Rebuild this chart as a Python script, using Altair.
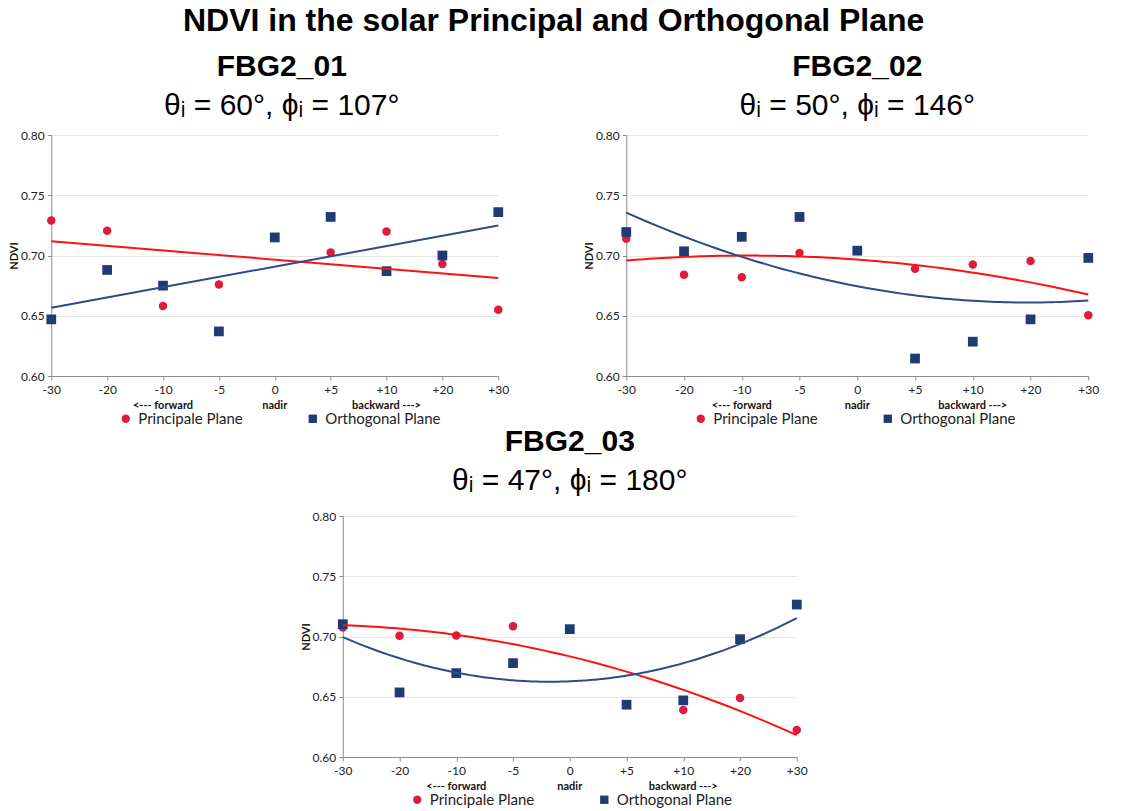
import altair as alt
import pandas as pd

# View angles along the x axis (categories, equally spaced)
angle_labels = ["-30", "-20", "-10", "-5", "0", "+5", "+10", "+20", "+30"]
planes = ["Principale Plane", "Orthogonal Plane"]

# NDVI per view angle, FBG2_01
fbg01_principal = [0.729, 0.7205, 0.658, 0.676, 0.715, 0.7025, 0.720, 0.693, 0.655]
fbg01_orthogonal = [0.647, 0.688, 0.675, 0.637, 0.715, 0.732, 0.687, 0.700, 0.736]

# NDVI per view angle, FBG2_02
fbg02_principal = [0.714, 0.684, 0.682, 0.702, 0.704, 0.689, 0.6925, 0.6955, 0.6505]
fbg02_orthogonal = [0.7195, 0.7035, 0.7155, 0.732, 0.704, 0.6145, 0.6285, 0.647, 0.698]

# NDVI per view angle, FBG2_03
fbg03_principal = [0.7075, 0.7006, 0.7008, 0.7086, 0.7061, 0.6434, 0.639, 0.6489, 0.6224]
fbg03_orthogonal = [0.7102, 0.6536, 0.6696, 0.6779, 0.7061, 0.6434, 0.647, 0.6978, 0.7265]

# Direction notes under the x axis
note_positions = [2, 4, 6]
note_texts = ["<--- forward", "nadir", "backward --->"]

point_colors = ["#E01A3C", "#1F3B73"]
line_colors = ["#FF1010", "#2E4A8C"]

TITLE_FONT = "Liberation Sans"
LABEL_FONT = "Lato"
HEIGHT = 241

label_expr = "[" + ",".join("'%s'" % s for s in angle_labels) + "][datum.value]"


def panel(principal, orthogonal, name, subtitle, method, width, title_offset, title_dx):
    rows = []
    for plane, values in zip(planes, [principal, orthogonal]):
        for i, v in enumerate(values):
            rows.append({"idx": i, "ndvi": v, "plane": plane})
    df = pd.DataFrame(rows)
    notes = pd.DataFrame({"idx": note_positions, "txt": note_texts})

    x = alt.X(
        "idx:Q",
        scale=alt.Scale(domain=[0, 8], nice=False, zero=False),
        axis=alt.Axis(
            values=list(range(9)), labelExpr=label_expr, title=None, grid=False,
            domainColor="#8a8a8a", tickColor="#8a8a8a", tickSize=4,
            labelFont=LABEL_FONT, labelFontSize=12, labelColor="#222222",
            labelPadding=4, labelFlush=False,
        ),
    )
    y = alt.Y(
        "ndvi:Q",
        scale=alt.Scale(domain=[0.6, 0.8], nice=False, zero=False),
        axis=alt.Axis(
            values=[0.6, 0.65, 0.7, 0.75, 0.8], format=".2f", title="NDVI",
            grid=True, gridColor="#e6e6e6", gridWidth=1,
            domainColor="#8a8a8a", tickColor="#8a8a8a", tickSize=4,
            labelFont=LABEL_FONT, labelFontSize=12, labelColor="#222222",
            labelPadding=3, titleFont=LABEL_FONT, titleFontSize=11,
            titleFontWeight="bold", titleColor="#111111", titlePadding=1,
        ),
    )

    legend = alt.Legend(
        title=None, orient="none", direction="horizontal", legendX=67, legendY=276,
        labelFont=LABEL_FONT, labelFontSize=15, labelColor="#222222",
        symbolSize=70, symbolStrokeWidth=0, columnPadding=62, labelOffset=5,
        labelLimit=300,
    )

    base = alt.Chart(df)
    points = base.mark_point(filled=True, opacity=1, strokeWidth=0).encode(
        x=x, y=y,
        fill=alt.Fill("plane:N", scale=alt.Scale(domain=planes, range=point_colors), legend=legend),
        shape=alt.Shape("plane:N", scale=alt.Scale(domain=planes, range=["circle", "square"]), legend=legend),
        size=alt.Size("plane:N", scale=alt.Scale(domain=planes, range=[72, 95]), legend=None),
    )

    if method == "linear":
        reg = base.transform_regression("idx", "ndvi", groupby=["plane"], method="linear")
    else:
        reg = base.transform_regression("idx", "ndvi", groupby=["plane"], method="poly", order=2)
    lines = reg.mark_line(strokeWidth=2).encode(
        x=x, y=y,
        stroke=alt.Stroke("plane:N", scale=alt.Scale(domain=planes, range=line_colors), legend=None),
    )

    note_marks = alt.Chart(notes).mark_text(
        font=LABEL_FONT, fontSize=11, fontWeight="bold", color="#111111", baseline="middle"
    ).encode(x=alt.X("idx:Q"), y=alt.value(HEIGHT + 30), text="txt:N")

    return alt.layer(points, lines, note_marks).properties(
        width=width, height=HEIGHT,
        title=alt.Title(
            name, subtitle=subtitle, font=TITLE_FONT, fontSize=30, fontWeight="bold",
            color="#000000", subtitleFont=TITLE_FONT, subtitleFontSize=30,
            subtitleColor="#000000", subtitlePadding=9, anchor="middle",
            offset=title_offset, dx=title_dx,
        ),
    )


p1 = panel(fbg01_principal, fbg01_orthogonal, "FBG2_01", "θᵢ = 60°, ϕᵢ = 107°", "linear", 447, 8, 7)
p2 = panel(fbg02_principal, fbg02_orthogonal, "FBG2_02", "θᵢ = 50°, ϕᵢ = 146°", "poly", 462, 8, 0)
p3 = panel(fbg03_principal, fbg03_orthogonal, "FBG2_03", "θᵢ = 47°, ϕᵢ = 180°", "poly", 454, 14, 0)

top_row = alt.hconcat(p1, p2, spacing=74).resolve_legend(
    fill="independent", shape="independent"
)

chart = alt.vconcat(top_row, p3, spacing=0, center=True).resolve_legend(
    fill="independent", shape="independent"
).properties(
    title=alt.Title(
        "NDVI in the solar Principal and Orthogonal Plane", font=TITLE_FONT,
        fontSize=32, fontWeight="bold", color="#000000", anchor="middle", offset=14,
    ),
    padding={"left": 8, "top": 5, "right": 10, "bottom": 5},
    background="white",
).configure_view(stroke=None)

chart.save("out.html", embed_options={"renderer": "svg", "actions": False})
